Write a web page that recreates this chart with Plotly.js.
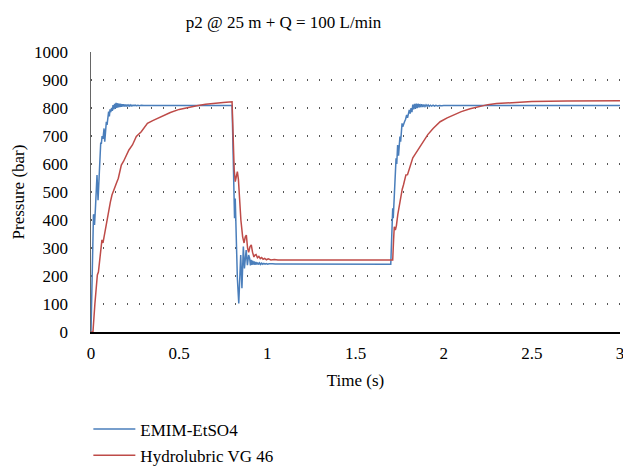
<!DOCTYPE html>
<html>
<head>
<meta charset="utf-8">
<script src="https://cdn.plot.ly/plotly-3.0.1.min.js"></script>
<style>html,body{margin:0;padding:0;background:#fff;}#chart{width:623px;height:468px;}</style>
</head>
<body>
<div id="chart"></div>
<script>
// EMIM-EtSO4 (blue)
const blueT = [
  0.000,0.005,0.011,0.014,0.017,0.020,0.025,0.030,0.034,0.040,0.045,0.051,0.055,0.059,0.063,0.068,0.074,0.078,0.083,0.087,
  0.091,0.096,0.100,0.104,0.108,0.112,0.117,0.121,0.125,0.129,0.134,0.138,0.142,0.146,0.150,0.155,0.159,0.163,0.167,0.172,
  0.176,0.180,0.185,0.190,0.195,0.200,0.205,0.210,0.215,0.220,0.226,0.232,0.238,0.244,0.250,0.258,0.266,0.275,0.285,0.300,
  0.350,0.500,0.800,
  0.806,0.811,0.814,0.818,0.824,0.830,0.838,0.844,0.849,0.856,0.864,0.870,0.880,0.887,0.894,0.900,0.904,0.908,0.912,0.916,
  0.920,0.925,0.930,0.935,0.940,0.945,0.950,0.956,0.962,0.968,0.974,0.980,0.987,0.994,1.001,1.010,1.020,1.030,1.045,1.060,
  1.700,
  1.704,1.708,1.711,1.714,1.718,1.722,1.726,1.730,1.734,1.739,1.744,1.748,1.752,1.756,1.760,1.764,1.768,1.772,1.778,1.784,
  1.790,1.795,1.800,1.805,1.810,1.815,1.820,1.825,1.830,1.835,1.840,1.845,1.850,1.855,1.860,1.865,1.870,1.876,1.882,1.888,
  1.894,1.900,1.906,1.912,1.918,1.925,1.932,1.940,1.948,1.956,1.965,1.975,1.990,2.000,3.000
];
const blueP = [
  0,200,376,420,418,382,440,489,561,471,560,632,674,674,700,690,727,680,730,751,
  740,770,787,770,795,785,800,790,810,795,815,798,818,800,817,802,816,803,815,804,
  814,805,813,806,812,806,812,807,811,807,811,807,810,808,810,808,810,808,809.5,808.5,
  809,809,809,
  650,489,406,477,330,192,102,200,275,156,305,227,293,239,275,262,238,258,240,255,
  241,252,240,250,241,248,241,247,241,246,242,245,242,244.5,242,244,242.5,243.5,242.5,243,
  242,
  330,420,442,406,450,520,580,620,600,668,630,680,698,680,720,745,733,745,751,760,
  775,765,785,793,780,800,785,812,795,815,798,816,800,815,802,814,803,813,804,812,
  805,811,806,811,806,810,807,810,807,809.5,807.5,809,808,808.5,808.5
];
// Hydrolubric VG 46 (red)
const redT = [
  0.000,0.011,0.022,0.030,0.036,0.042,0.050,0.057,0.062,0.068,0.075,0.087,0.100,0.110,0.119,0.130,0.144,0.155,0.165,0.172,
  0.185,0.200,0.215,0.235,0.257,0.285,0.320,0.350,0.400,0.450,0.500,0.550,0.600,0.650,0.700,0.750,0.800,
  0.805,0.812,0.818,0.824,0.830,0.836,0.842,0.850,0.860,0.868,0.875,0.881,0.888,0.894,0.902,0.909,0.916,0.924,0.930,
  0.936,0.944,0.952,0.960,0.968,0.976,0.985,0.995,1.005,1.020,1.040,1.060,1.700,
  1.711,1.716,1.720,1.726,1.732,1.740,1.750,1.758,1.765,1.772,1.780,1.786,1.795,1.805,1.815,1.825,1.835,1.853,1.870,1.890,
  1.910,1.940,1.980,2.020,2.060,2.100,2.150,2.200,2.250,2.300,2.400,2.500,2.700,3.000
];
const redP = [
  0,0,100,180,204,214,260,320,329,318,345,382,442,465,489,505,531,549,575,596,
  610,630,650,668,698,715,745,755,770,784,795,802,808,813,817,820,822,
  700,580,537,555,573,545,480,400,340,318,340,346,300,285,305,311,285,268,275,
  277,265,270,262,266,260,263,258,261,257,259,257,257,
  257,330,376,364,380,420,460,489,510,525,550,561,562,585,608,622,632,650,670,690,
  705,727,751,765,777,787,797,805,812,816,820,823,825,826
];

const yTicks = [0,100,200,300,400,500,600,700,800,900,1000];
const xTicks = [0,0.5,1,1.5,2,2.5,3];
const xTickText = ['0','0.5','1','1.5','2','2.5','3'];

const FONT = '"Liberation Serif", serif';

const traces = [
  {x: blueT, y: blueP, type: 'scatter', mode: 'lines', name: 'EMIM-EtSO4',
   line: {color: '#4a7ebb', width: 1.5}, legendgroup: 'a'},
  {x: redT, y: redP, type: 'scatter', mode: 'lines', name: 'Hydrolubric VG 46',
   line: {color: '#be4b48', width: 1.5}, legendgroup: 'b'}
];

const layout = {
  width: 623, height: 468,
  margin: {l: 91, r: 3, t: 52, b: 136, autoexpand: false},
  paper_bgcolor: '#fff', plot_bgcolor: '#fff',
  font: {family: FONT, size: 17, color: '#000'},
  title: {text: 'p2 @ 25 m + Q = 100 L/min', font: {family: FONT, size: 17, color: '#000'},
          x: 0.455, xref: 'container', xanchor: 'center', y: 0.952, yref: 'container', yanchor: 'middle'},
  xaxis: {
    range: [0, 3], tickvals: xTicks, ticktext: xTickText,
    showgrid: false, zeroline: false, showline: true, linecolor: '#000', linewidth: 1.5,
    ticks: '', ticklabelstandoff: 5, ticklabeloverflow: 'allow',
    title: {text: 'Time (s)', font: {family: FONT, size: 17}, standoff: 12}
  },
  yaxis: {
    range: [0, 1000], tickvals: yTicks,
    showgrid: true, gridcolor: '#555', gridwidth: 1.2, griddash: '1.2px,10.8px',
    zeroline: false, showline: true, linecolor: '#666', linewidth: 1.5,
    ticks: '', ticklabelstandoff: 18,
    title: {text: 'Pressure (bar)', font: {family: FONT, size: 17}, standoff: 5}
  },
  showlegend: true,
  legend: {orientation: 'v', x: -0.005, xanchor: 'left', y: -0.284, yanchor: 'top',
           font: {family: FONT, size: 17}, tracegroupgap: 1, itemwidth: 42, bgcolor: 'rgba(0,0,0,0)'}
};

Plotly.newPlot('chart', traces, layout, {displayModeBar: false, staticPlot: true});
</script>
</body>
</html>
